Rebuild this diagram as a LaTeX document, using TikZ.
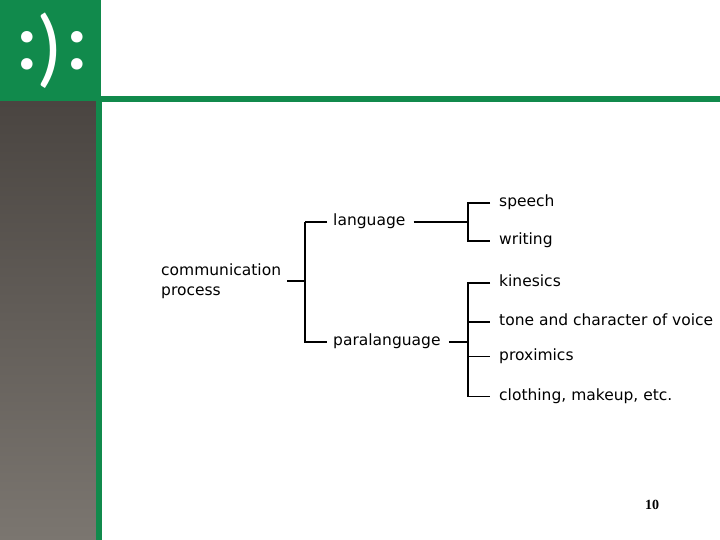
\documentclass[tikz,border=0pt]{standalone}
\usepackage{fontspec}
\setmainfont{DejaVu Sans}
\newfontfamily\logofont{Lato}
\newfontfamily\logobold{Lato Bold}
\newfontfamily\numfont{Liberation Serif}
\definecolor{brandgreen}{RGB}{17,138,76}
\definecolor{graytop}{RGB}{74,69,65}
\definecolor{graybot}{RGB}{123,118,112}
\begin{document}
\begin{tikzpicture}[x=1pt,y=-1pt,
  lbl/.style={anchor=west, inner sep=0pt, text height=11pt, text depth=4pt, font=\fontsize{15.5}{20}\selectfont},
  thinln/.style={line width=1.1pt, black},
  thickln/.style={line width=2pt, black},
  logo/.style={inner sep=0pt, text=white, font=\logobold\fontsize{76}{90}\selectfont}]
\useasboundingbox (0,0) rectangle (720,540);
\fill[white] (0,0) rectangle (720,540);
% frame
\shade[top color=graytop, bottom color=graybot] (0,102) rectangle (96,540);
\fill[brandgreen] (0,0) rectangle (101,101);
\fill[brandgreen] (101,96) rectangle (720,102);
\fill[brandgreen] (96,96) rectangle (102,540);
% logo
\node[logo] (lc1) at (27,50.5) {:};
\node[logo, font=\logofont\fontsize{82}{90}\selectfont] (lp) at (49,50.5) {)};
\node[logo] (lc2) at (77,50.5) {:};
% helper x positions
\coordinate (xl) at (305,0);
\coordinate (xr) at (468,0);
% labels
\node[anchor=west, inner sep=0pt, align=left, font=\fontsize{15.5}{20}\selectfont] (cp) at (161,281) {communication\\process};
\node[lbl] (lang) at (333,222) {language};
\node[lbl] (para) at (333,342) {paralanguage};
\node[lbl] (sp) at (499,203) {speech};
\node[lbl] (wr) at (499,240.5) {writing};
\node[lbl] (ki) at (499,283) {kinesics};
\node[lbl] (to) at (499,322) {tone and character of voice};
\node[lbl] (px) at (499,356.5) {proximics};
\node[lbl] (cl) at (499,396.5) {clothing, makeup, etc.};
\node[inner sep=0pt, font=\numfont\bfseries\fontsize{14}{16}\selectfont] (pg) at (652,505) {10};
% left bracket
\draw[thinln] ([xshift=6]cp.east) -- (cp.east -| xl);
\draw[thinln] (lang.west -| xl) -- (para.west -| xl) -- ([xshift=-6]para.west);
\draw[thickln] ([xshift=-6]lang.west) -- (lang.west -| xl);
% language bracket
\draw[thickln] ([xshift=8]lang.east) -- (lang.east -| xr);
\draw[thickln] ([xshift=-9]sp.west) -- (sp.west -| xr) -- (wr.west -| xr) -- ([xshift=-9]wr.west);
% paralanguage bracket
\draw[thinln] ([xshift=8]para.east) -- (para.east -| xr);
\draw[thickln] ([xshift=-9]ki.west) -- (ki.west -| xr) -- (cl.west -| xr);
\draw[thickln] (to.west -| xr) -- ([xshift=-9]to.west);
\draw[thinln] (px.west -| xr) -- ([xshift=-9]px.west);
\draw[thinln] (cl.west -| xr) -- ([xshift=-9]cl.west);
\end{tikzpicture}
\end{document}
